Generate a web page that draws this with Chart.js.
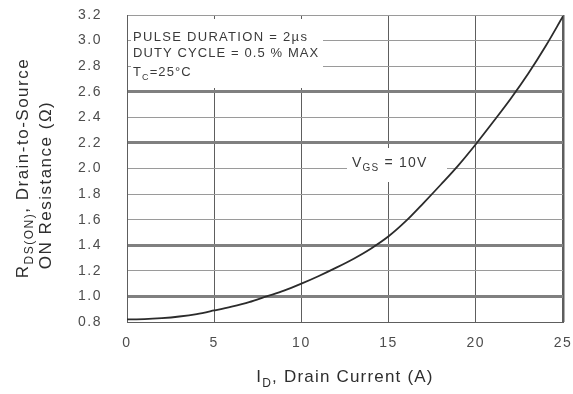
<!DOCTYPE html>
<html>
<head>
<meta charset="utf-8">
<script src="https://cdn.jsdelivr.net/npm/chart.js@4.4.1/dist/chart.umd.min.js"></script>
<style>
  html, body { margin: 0; padding: 0; background: #fff; }
  #wrap { width: 573px; height: 394px; }
</style>
</head>
<body>
<div id="wrap"><canvas id="c" width="573" height="394"></canvas></div>
<script>
// Drain current (A) and on-state resistance (ohm), VGS = 10 V
const drainCurrent = [0, 1, 2, 3, 4, 5, 6, 7, 8, 9, 10, 11, 12, 13, 14, 15, 16, 17, 18, 19, 20, 21, 22, 23, 24, 25];
const rdsOn = [0.820, 0.822, 0.830, 0.843, 0.862, 0.890, 0.920, 0.955, 1.000, 1.045, 1.100, 1.160, 1.225,
               1.295, 1.375, 1.470, 1.590, 1.730, 1.875, 2.025, 2.190, 2.365, 2.545, 2.740, 2.955, 3.190];

const xTickValues = [0, 5, 10, 15, 20, 25];
const yTickValues = [0.8, 1.0, 1.2, 1.4, 1.6, 1.8, 2.0, 2.2, 2.4, 2.6, 2.8, 3.0, 3.2];
const heavyRows = [1.0, 1.4, 2.2, 2.6];

const xTitle = [['I'], ['D', 'sub'], [', Drain Current (A)']];
const yTitleLine1 = [['R'], ['DS(ON)', 'sub'], [', Drain-to-Source']];
const yTitleLine2 = [['ON Resistance (\u03A9)']];
const noteLines = [
  [['PULSE DURATION = 2\u00B5s']],
  [['DUTY CYCLE = 0.5 % MAX']],
  [['T'], ['C', 'sub'], ['=25\u00B0C']]
];
const curveLabel = [['V'], ['GS', 'sub'], [' = 10V']];

const FONT = '"Liberation Sans", Arial, Helvetica, sans-serif';

// Draws a run of text pieces, some of them as subscripts
function richWidth(ctx, parts, size, spacing) {
  let w = 0;
  for (const [t, kind] of parts) {
    const s = kind === 'sub' ? Math.round(size * 0.72) : size;
    ctx.font = s + 'px ' + FONT;
    ctx.letterSpacing = spacing + 'px';
    w += ctx.measureText(t).width;
  }
  return w;
}
function drawRich(ctx, parts, x, y, size, spacing, align) {
  const total = richWidth(ctx, parts, size, spacing);
  let cx = align === 'center' ? x - total / 2 : x;
  ctx.textAlign = 'left';
  ctx.textBaseline = 'alphabetic';
  for (const [t, kind] of parts) {
    const sub = kind === 'sub';
    const s = sub ? Math.round(size * 0.72) : size;
    ctx.font = s + 'px ' + FONT;
    ctx.letterSpacing = spacing + 'px';
    ctx.fillText(t, cx, sub ? y + size * 0.3 : y);
    cx += ctx.measureText(t).width;
  }
}

const decorations = {
  id: 'decorations',
  beforeDraw(chart) {
    chart.ctx.letterSpacing = '1.5px';
  },
  beforeDatasetsDraw(chart) {
    const ctx = chart.ctx;
    ctx.save();
    // white panels behind the test conditions and the curve label
    ctx.fillStyle = '#fff';
    ctx.fillRect(131, 19, 192, 69);
    ctx.fillRect(347, 148, 100, 34);
    ctx.fillStyle = '#3a3a3a';
    drawRich(ctx, noteLines[0], 133, 41, 13, 1.3, 'left');
    drawRich(ctx, noteLines[1], 133, 57, 13, 1.1, 'left');
    drawRich(ctx, noteLines[2], 133, 76, 13, 1.1, 'left');
    drawRich(ctx, curveLabel, 352, 167, 14, 1.2, 'left');
    ctx.restore();
  },
  afterDraw(chart) {
    const ctx = chart.ctx;
    ctx.save();
    ctx.fillStyle = '#2e2e2e';
    drawRich(ctx, xTitle, 345, 382, 17, 1.2, 'center');
    ctx.translate(28, 168);
    ctx.rotate(-Math.PI / 2);
    drawRich(ctx, yTitleLine1, 0, 0, 17, 1.5, 'center');
    ctx.restore();
    ctx.save();
    ctx.fillStyle = '#2e2e2e';
    ctx.translate(51, 185);
    ctx.rotate(-Math.PI / 2);
    drawRich(ctx, yTitleLine2, 0, 0, 17, 1.5, 'center');
    ctx.restore();
  }
};

new Chart(document.getElementById('c'), {
  type: 'scatter',
  data: {
    datasets: [{
      data: drainCurrent.map((x, i) => ({ x, y: rdsOn[i] })),
      showLine: true,
      borderColor: '#2b2b2b',
      borderWidth: 1.8,
      pointRadius: 0,
      cubicInterpolationMode: 'monotone',
      fill: false
    }]
  },
  options: {
    responsive: false,
    animation: false,
    devicePixelRatio: 1,
    layout: { padding: { left: 0, right: 10, top: 15, bottom: 0 } },
    plugins: { legend: { display: false }, tooltip: { enabled: false } },
    scales: {
      x: {
        type: 'linear',
        min: 0,
        max: 25,
        afterBuildTicks(scale) { scale.ticks = xTickValues.map(v => ({ value: v })); },
        afterFit(scale) {
          scale.height = 72;
          scale.paddingLeft = 0;
          scale.paddingRight = 0;
        },
        grid: {
          color: '#5e5e5e',
          lineWidth: c => (c.tick && c.tick.value === 25 ? 2.5 : 1),
          drawTicks: false
        },
        border: { display: true, color: '#5e5e5e', width: 1 },
        ticks: {
          padding: 13,
          color: '#4d4d4d',
          font: { family: FONT, size: 14 },
          callback: v => String(v)
        }
      },
      y: {
        type: 'linear',
        min: 0.8,
        max: 3.2,
        afterBuildTicks(scale) { scale.ticks = yTickValues.map(v => ({ value: v })); },
        afterFit(scale) {
          scale.width = 127;
          scale.paddingTop = 0;
          scale.paddingBottom = 0;
        },
        grid: {
          color: c => (c.tick && heavyRows.some(h => Math.abs(h - c.tick.value) < 1e-6) ? '#808080' : '#9a9a9a'),
          lineWidth: c => (c.tick && heavyRows.some(h => Math.abs(h - c.tick.value) < 1e-6) ? 3 : 1),
          drawTicks: false
        },
        border: { display: true, color: '#5e5e5e', width: 1 },
        ticks: {
          padding: 25,
          color: '#4d4d4d',
          font: { family: FONT, size: 14 },
          callback: v => Number(v).toFixed(1)
        }
      }
    }
  },
  plugins: [decorations]
});
</script>
</body>
</html>
